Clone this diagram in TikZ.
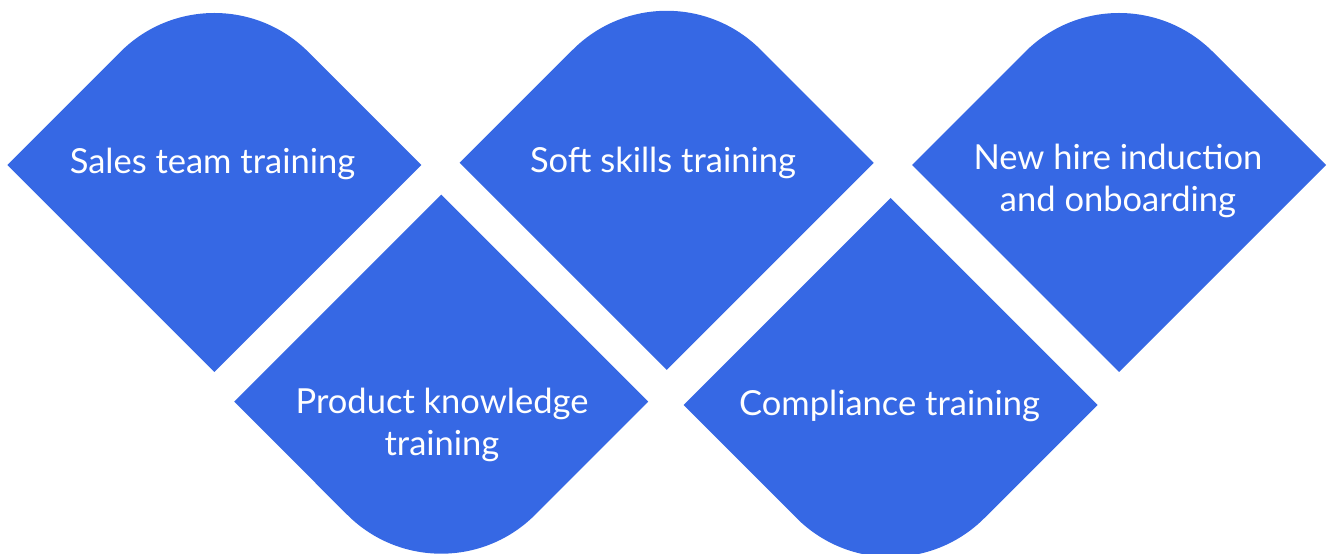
\documentclass[tikz,border=0pt]{standalone}
\usepackage{fontspec}
\setmainfont{Lato}
\definecolor{gemblue}{HTML}{3668E4}
\newcommand\topgem[2]{\fill[gem] (#1-207,#2) -- (#1-93.9,#2+113.1) arc[start angle=135,end angle=45,radius=132.8pt] -- (#1+207,#2) -- (#1,#2-207) -- cycle;}
\newcommand\botgem[2]{\fill[gem] (#1-207,#2) -- (#1,#2+207) -- (#1+207,#2) -- (#1+93.9,#2-113.1) arc[start angle=-45,end angle=-135,radius=132.8pt] -- cycle;}
\begin{document}
\begin{tikzpicture}[x=1pt,y=1pt,
  gem/.style={fill=gemblue},
  lbl/.style={text=white,font=\fontsize{34.5}{42}\selectfont,align=center,inner sep=0pt,anchor=base}]
\useasboundingbox (0,0) rectangle (1331,554);
\topgem{214.3}{389}
\topgem{666.7}{391.2}
\topgem{1119}{389}
\botgem{441.2}{152.3}
\botgem{890.5}{149}
\node[lbl] (sales) at (212.5,380) {Sales team training};
\node[lbl] (soft) at (663,381) {Soft skills training};
\node[lbl] (newhire) at (1118,342) {New hire induction\\and onboarding};
\node[lbl] (product) at (442,98) {Product knowledge\\training};
\node[lbl] (compliance) at (889.5,138) {Compliance training};
\end{tikzpicture}
\end{document}
